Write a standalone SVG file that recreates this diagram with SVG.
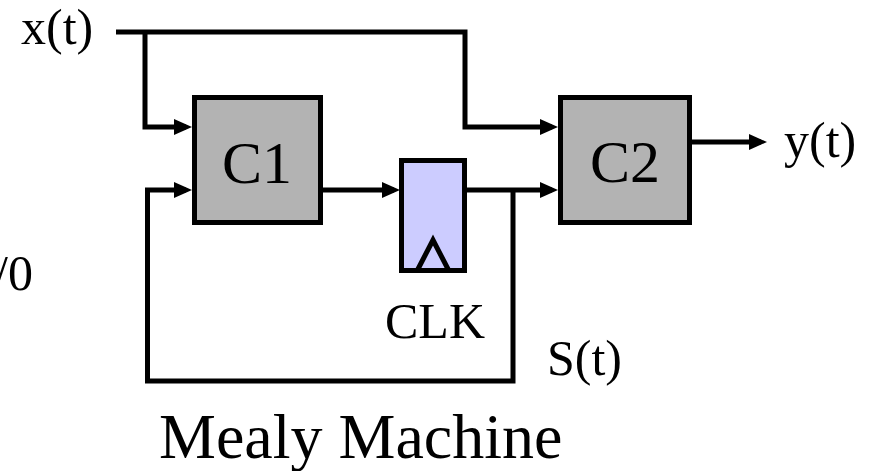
<svg xmlns="http://www.w3.org/2000/svg" width="878" height="471" viewBox="0 0 878 471">
<style>
.w{fill:none;stroke:#000;stroke-width:5;stroke-linejoin:miter;stroke-linecap:butt}
.a{marker-end:url(#ah)}
.box{fill:#b3b3b3;stroke:#000;stroke-width:5}
.ff{fill:#ccccff;stroke:#000;stroke-width:5}
text{font-family:"Liberation Serif","Times New Roman",serif;fill:#000}
</style>
<defs>
<marker id="ah" markerUnits="userSpaceOnUse" viewBox="0 0 18 16" refX="12" refY="8" markerWidth="18" markerHeight="16" orient="auto">
<path d="M0,0 L18,8 L0,16 z" fill="#000"/>
</marker>
</defs>
<rect width="878" height="471" fill="#fff"/>
<g id="connectors">
<path class="w a" d="M116,32 H465 V127 H552"/>
<path class="w a" d="M145,32 V127 H186"/>
<path class="w a" d="M323,190 H394"/>
<path class="w a" d="M467,190 H552"/>
<path class="w a" d="M513,190 V381 H147.5 V190 H186"/>
<path class="w a" d="M692,142 H761"/>
</g>
<g id="C1">
<rect class="box" x="194.5" y="97.5" width="126" height="125"/>
<text x="257" y="183" font-size="60" text-anchor="middle">C1</text>
</g>
<g id="FF">
<rect class="ff" x="401.5" y="160.5" width="63" height="110"/>
<path d="M417,271 L433,240 L449,271" fill="none" stroke="#000" stroke-width="5"/>
</g>
<g id="C2">
<rect class="box" x="560.5" y="97.5" width="129" height="125"/>
<text x="625" y="182" font-size="60" text-anchor="middle">C2</text>
</g>
<g id="labels">
<text x="21" y="44" font-size="50">x(t)</text>
<text x="784" y="157" font-size="50">y(t)</text>
<text x="385" y="338" font-size="50">CLK</text>
<text x="547" y="375" font-size="50">S(t)</text>
<text x="33" y="290" font-size="50" text-anchor="end">/0</text>
<text x="159" y="458" font-size="64">Mealy Machine</text>
</g>
</svg>
